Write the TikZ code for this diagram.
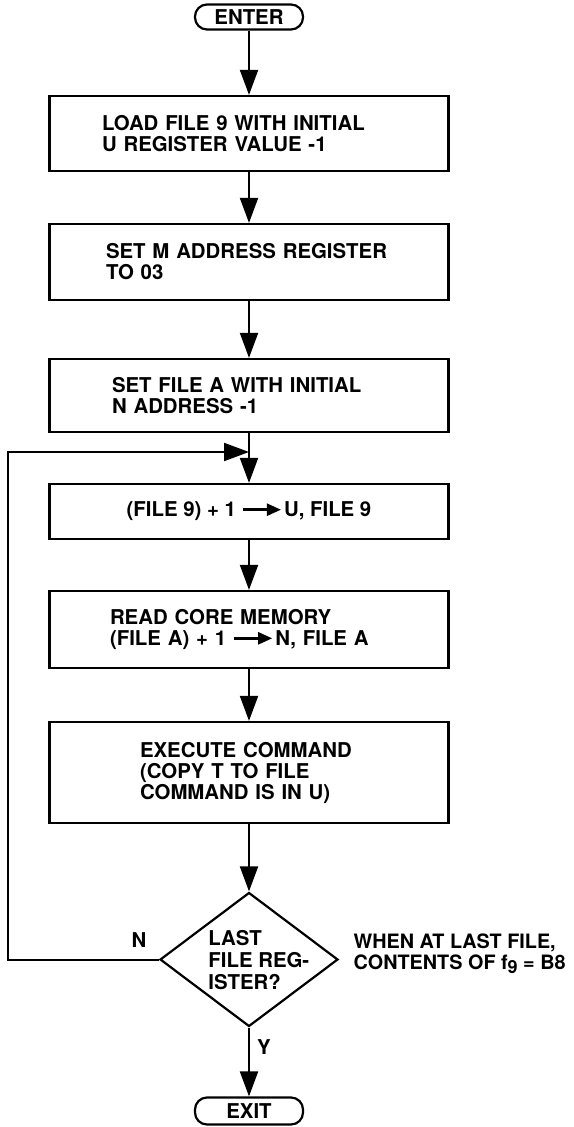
\documentclass[tikz,border=0pt]{standalone}
\usepackage{fontspec}
\setmainfont{TeX Gyre Heros}
\usetikzlibrary{shapes.geometric,arrows.meta,positioning}

% small filled arrow used inside the box texts
\newcommand{\goesto}{\tikz[baseline=-3.6pt,x=1pt,y=1pt]\draw[line width=1.2pt,-{Triangle[length=7pt,width=6pt]}] (0,0) -- (19,0);}

\begin{document}
\begin{tikzpicture}[x=0.5pt, y=-0.5pt,
    font=\fontsize{10.2}{10.5}\selectfont\bfseries,
    terminal/.style={rectangle, draw, line width=1.1pt, rounded corners=6pt, minimum width=54pt, minimum height=12.5pt, inner sep=0pt},
    block/.style={rectangle, draw, line width=1.1pt, minimum width=199.5pt, inner sep=0pt},
    box/.style={block, text width=#1, align=left},
    decision/.style={diamond, draw, line width=1.1pt, minimum width=89pt, minimum height=67pt, inner sep=0pt},
    note/.style={align=left, inner sep=0pt, font=\fontsize{9.9}{10.2}\selectfont\bfseries},
    lbl/.style={inner sep=0pt},
    flow/.style={-{Triangle[length=12.5pt,width=9pt]}, line width=1pt}
]
\useasboundingbox (0,0) rectangle (573,1127);

% Start / end
\node[terminal] (enter) at (249,17) {ENTER};
\node[terminal, minimum height=13.5pt] (exit) at (249,1111) {EXIT};

% Process boxes
\node[box=147pt, minimum height=37.5pt] (loadfile) at (249,133.5) {LOAD FILE 9 WITH INITIAL\\U REGISTER VALUE -1};
\node[box=143pt, minimum height=38pt] (setm) at (249,262) {SET M ADDRESS REGISTER\\TO 03};
\node[box=137pt, minimum height=36.5pt] (setfile) at (249,395.5) {SET FILE A WITH INITIAL\\N ADDRESS -1};
\node[block, minimum height=27.5pt] (incfile) at (249,511.5) {(FILE 9) + 1 \goesto\kern1pt U, FILE 9};
\node[box=139pt, minimum height=38.5pt] (readcore) at (249,629.5) {READ CORE MEMORY\\(FILE A) + 1 \goesto\kern1pt N, FILE A};
\node[box=109pt, minimum height=50.5pt] (execute) at (249,772.5) {EXECUTE COMMAND\\(COPY T TO FILE\\COMMAND IS IN U)};

% Decision
\node[decision] (lastreg) at (249,959.5) {};
\node[lbl, align=left, anchor=west] (lastregtxt) at (208,960) {LAST\\[0.5pt]FILE REG-\\[0.5pt]ISTER?};
\node[note, anchor=east] (lastnote) at (566,954) {WHEN AT LAST FILE,\\CONTENTS OF f\raisebox{-2.2pt}{\fontsize{9}{9}\selectfont 9} = B8};

% Branch labels
\node[lbl] (nlbl) at (139,940) {N};
\node[lbl] (ylbl) at (264,1047) {Y};

% Loop entry point
\coordinate (loopin) at (249,452);
\coordinate (loopleft) at (8,452);

% Main flow
\draw[flow] (enter) -- (loadfile);
\draw[flow] (loadfile) -- (setm);
\draw[flow] (setm) -- (setfile);
\draw[flow] (setfile) -- (incfile);
\draw[flow] (incfile) -- (readcore);
\draw[flow] (readcore) -- (execute);
\draw[flow] (execute) -- (lastreg);
\draw[flow] (lastreg) -- (exit);

% Loop back (N)
\draw[flow] (lastreg.west) -| (loopleft) -- (loopin);

\end{tikzpicture}
\end{document}
